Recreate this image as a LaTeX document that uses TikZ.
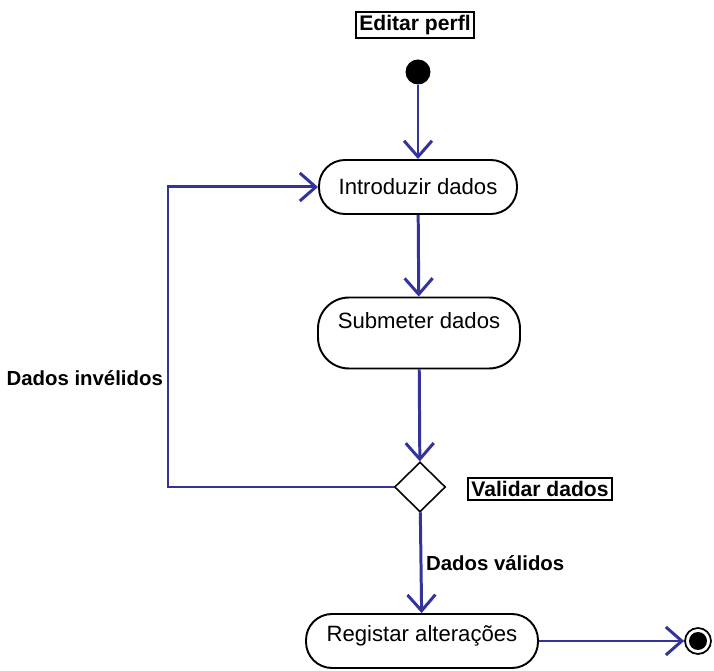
\documentclass[tikz,border=0pt]{standalone}
\usepackage{fontspec}
\setmainfont{Liberation Sans}
\usepackage{tikz}
\usetikzlibrary{shapes.geometric, arrows.meta, positioning}
\definecolor{fluxoazul}{RGB}{51, 51, 153}

\begin{document}
\begin{tikzpicture}[x=0.02cm, y=-0.02cm,
        atividade/.style={rectangle, rounded corners=0.52cm, draw=black, line width=1.1pt, minimum width=3.96cm, minimum height=1.08cm, align=center, font=\fontsize{12.6}{14}\selectfont},
        titulo/.style={rectangle, draw=black, line width=1.3pt, inner sep=2pt, font=\fontsize{12}{14}\selectfont\bfseries},
        rotulo/.style={font=\fontsize{11.6}{13}\selectfont\bfseries, inner sep=1pt},
        decisao/.style={diamond, draw=black, line width=0.9pt, minimum width=1.02cm, minimum height=1cm, inner sep=0pt},
        inicio/.style={circle, fill=black, minimum size=0.5cm, inner sep=0pt},
        fim/.style={circle, draw=black, line width=1pt, minimum size=0.52cm, inner sep=0pt, path picture={\fill[black] (path picture bounding box.center) circle (0.18cm);}},
        fluxo/.style={-{Straight Barb[length=3.2mm, width=5.6mm]}, line width=1.7pt, color=fluxoazul}
    ]
        \useasboundingbox (0,0) rectangle (714,671);

        \node[titulo] (editar) at (415,25) {Editar perfl};
        \node[inicio] (ini) at (418,72) {};
        \node[atividade] (intro) at (418,187) {Introduzir dados};
        \node[atividade, rounded corners=0.62cm, minimum width=4.04cm, minimum height=1.42cm, text depth=0.5cm] (submeter) at (419,333) {Submeter dados};
        \node[decisao] (valida) at (420,487) {};
        \node[titulo] (validar) at (540,489) {Validar dados};
        \node[atividade, minimum width=4.64cm, text depth=0.3cm] (registar) at (422,641) {Registar alterações};
        \node[fim] (final) at (698,641) {};
        \coordinate (canto) at (168,487);

        \node[rotulo, anchor=east] (invalidos) at (165,378) {Dados invélidos};
        \node[rotulo, anchor=west] (validos) at (424,563) {Dados válidos};

        \draw[fluxo] (ini) -- (intro);
        \draw[fluxo] (intro) -- (submeter);
        \draw[fluxo] (submeter) -- (valida);
        \draw[fluxo] (valida.west) -- (canto) |- (intro.west);
        \draw[fluxo] (valida) -- (registar);
        \draw[fluxo] (registar) -- (final);
    \end{tikzpicture}
\end{document}
